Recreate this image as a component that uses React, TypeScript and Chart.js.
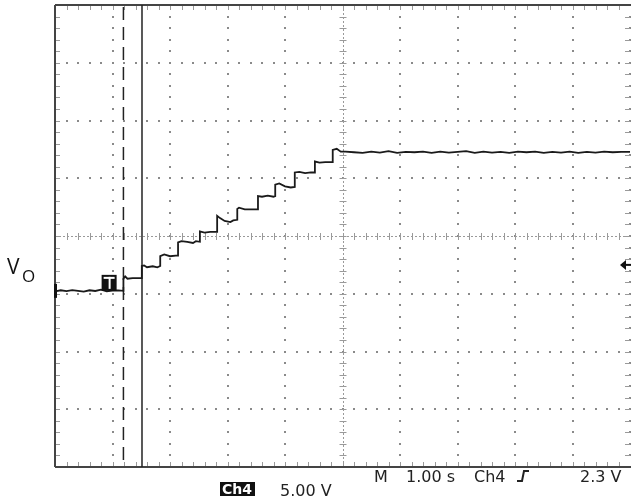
import React, { useEffect, useRef } from "react";
import { Chart, registerables } from "chart.js";

Chart.register(...registerables);

// Waveform (time in s, 1.00 s/div; voltage in V, 5.00 V/div)
const timeS: number[] = [
  0, 0.1, 0.2, 0.3, 0.4, 0.5, 0.6, 0.7, 0.8, 0.9, 1.0, 1.1, 1.19,
  1.19, 1.22, 1.26, 1.35, 1.51,
  1.51, 1.55, 1.6, 1.7, 1.78, 1.83,
  1.83, 1.9, 2.0, 2.1, 2.14,
  2.14, 2.2, 2.3, 2.4, 2.45, 2.52,
  2.52, 2.6, 2.7, 2.82,
  2.82, 2.87, 2.95, 3.05, 3.1, 3.17,
  3.17, 3.2, 3.3, 3.45, 3.53,
  3.53, 3.6, 3.7, 3.8, 3.83,
  3.83, 3.9, 4.0, 4.1, 4.17,
  4.17, 4.25, 4.35, 4.45, 4.52,
  4.52, 4.6, 4.7, 4.83,
  4.83, 4.9, 4.97, 5.05, 5.2, 5.35, 5.5, 5.65, 5.8, 5.95, 6.1, 6.25, 6.4,
  6.55, 6.7, 6.85, 7.0, 7.15, 7.3, 7.45, 7.6, 7.75, 7.9, 8.05, 8.2, 8.35,
  8.5, 8.65, 8.8, 8.95, 9.1, 9.25, 9.4, 9.55, 9.7, 9.85, 10,
];
const voltsV: number[] = [
  -4.8, -4.7, -4.78, -4.68, -4.75, -4.82, -4.7, -4.76, -4.65, -4.8, -4.72, -4.7, -4.75,
  -3.7, -3.5, -3.7, -3.65, -3.65,
  -2.6, -2.55, -2.7, -2.62, -2.72, -2.6,
  -1.75, -1.6, -1.75, -1.7, -1.7,
  -0.55, -0.45, -0.5, -0.6, -0.45, -0.5,
  0.4, 0.3, 0.35, 0.35,
  1.75, 1.55, 1.3, 1.2, 1.35, 1.4,
  2.35, 2.45, 2.3, 2.3, 2.3,
  3.45, 3.4, 3.5, 3.4, 3.45,
  4.45, 4.55, 4.3, 4.2, 4.25,
  5.5, 5.55, 5.45, 5.5, 5.5,
  6.45, 6.35, 6.4, 6.4,
  7.45, 7.55, 7.3, 7.3, 7.25, 7.2, 7.3, 7.22, 7.35, 7.2, 7.28, 7.25, 7.3,
  7.2, 7.3, 7.22, 7.28, 7.35, 7.2, 7.3, 7.22, 7.28, 7.2, 7.3, 7.25, 7.3,
  7.2, 7.28, 7.22, 7.3, 7.2, 7.28, 7.22, 7.3, 7.25, 7.28, 7.28,
];

// Cursor positions (s)
const cursorDashed: number[] = [1.19];
const cursorSolid: number[] = [1.513];

// Axis ranges (divisions: 10 horizontal x 1 s, 8 vertical x 5 V)
const xRange: number[] = [0, 10];
const yRange: number[] = [-20, 20];
const xDivs = 10;
const yDivs = 8;

// Markers
const triggerLevelV: number[] = [-2.5];
const triggerTime: number[] = [0.95];
const groundLevelV: number[] = [-4.75];

const scopePlugin = {
  id: "scopeDecor",
  beforeDatasetsDraw(chart: any) {
    const { ctx, chartArea } = chart;
    const { left, right, top, bottom } = chartArea;
    const xs = chart.scales.x;
    const ys = chart.scales.y;
    ctx.save();
    const dx = (right - left) / xDivs;
    const dy = (bottom - top) / yDivs;
    ctx.fillStyle = "#8a8a8a";
    for (let i = 1; i <= xDivs; i++) {
      if (i === xDivs / 2) continue;
      const x = left + i * dx;
      for (let j = 1; j < yDivs * 5; j++) {
        const y = top + (j * dy) / 5;
        ctx.fillRect(Math.round(x) - 1, Math.round(y) - 1, 2, 2);
      }
    }
    for (let j = 1; j < yDivs; j++) {
      if (j === yDivs / 2) continue;
      const y = top + j * dy;
      for (let i = 1; i <= xDivs * 5; i++) {
        const x = left + (i * dx) / 5;
        ctx.fillRect(Math.round(x) - 1, Math.round(y) - 1, 2, 2);
      }
    }
    const cx = xs.getPixelForValue((xRange[0] + xRange[1]) / 2);
    const cy = ys.getPixelForValue((yRange[0] + yRange[1]) / 2);
    ctx.strokeStyle = "#9a9a9a";
    ctx.lineWidth = 1;
    ctx.setLineDash([2, 2]);
    ctx.beginPath();
    ctx.moveTo(left, Math.round(cy) + 0.5);
    ctx.lineTo(right, Math.round(cy) + 0.5);
    ctx.moveTo(Math.round(cx) + 0.5, top);
    ctx.lineTo(Math.round(cx) + 0.5, bottom);
    ctx.stroke();
    ctx.setLineDash([]);
    ctx.beginPath();
    for (let i = 1; i < xDivs * 5; i++) {
      const x = Math.round(left + (i * dx) / 5) + 0.5;
      ctx.moveTo(x, cy - 3);
      ctx.lineTo(x, cy + 4);
      ctx.moveTo(x, bottom);
      ctx.lineTo(x, bottom - 5);
      ctx.moveTo(x, top);
      ctx.lineTo(x, top + 5);
    }
    for (let j = 1; j < yDivs * 5; j++) {
      const y = Math.round(top + (j * dy) / 5) + 0.5;
      ctx.moveTo(cx - 3, y);
      ctx.lineTo(cx + 4, y);
      ctx.moveTo(left, y);
      ctx.lineTo(left + 5, y);
      ctx.moveTo(right, y);
      ctx.lineTo(right - 5, y);
    }
    ctx.stroke();
    ctx.strokeStyle = "#444";
    ctx.lineWidth = 2;
    ctx.beginPath();
    ctx.moveTo(left, top);
    ctx.lineTo(right + 2, top);
    ctx.moveTo(left, top);
    ctx.lineTo(left, bottom);
    ctx.moveTo(left, bottom);
    ctx.lineTo(right + 2, bottom);
    ctx.stroke();
    ctx.strokeStyle = "#222";
    ctx.lineWidth = 1.5;
    ctx.setLineDash([13, 7]);
    cursorDashed.forEach((t) => {
      const x = xs.getPixelForValue(t);
      ctx.beginPath();
      ctx.moveTo(x, top + 2);
      ctx.lineTo(x, bottom);
      ctx.stroke();
    });
    ctx.setLineDash([]);
    cursorSolid.forEach((t) => {
      const x = xs.getPixelForValue(t);
      ctx.beginPath();
      ctx.moveTo(x, top);
      ctx.lineTo(x, bottom);
      ctx.stroke();
    });
    ctx.restore();
  },
  afterDatasetsDraw(chart: any) {
    const { ctx, chartArea } = chart;
    const { left, right, bottom } = chartArea;
    const xs = chart.scales.x;
    const ys = chart.scales.y;
    ctx.save();
    const tx = xs.getPixelForValue(triggerTime[0]);
    const gy = ys.getPixelForValue(groundLevelV[0]);
    ctx.fillStyle = "#111";
    ctx.fillRect(tx - 8, gy - 16, 15, 16);
    ctx.fillStyle = "#fff";
    ctx.fillRect(tx - 6, gy - 14, 11, 2);
    ctx.fillRect(tx - 1, gy - 14, 2, 12);
    ctx.fillStyle = "#111";
    ctx.fillRect(left - 1, gy - 7, 3, 14);
    const ly = ys.getPixelForValue(triggerLevelV[0]);
    ctx.beginPath();
    ctx.moveTo(right - 10, ly);
    ctx.lineTo(right - 4, ly - 5);
    ctx.lineTo(right - 4, ly + 5);
    ctx.closePath();
    ctx.fill();
    ctx.fillRect(right - 5, ly - 1, 6, 2);

    ctx.fillStyle = "#111";
    ctx.textBaseline = "alphabetic";
    ctx.font = "21px 'Open Sans', sans-serif";
    ctx.fillText("V", 7, 274);
    ctx.font = "17px 'Open Sans', sans-serif";
    ctx.fillText("O", 22, 282);

    ctx.fillStyle = "#222";
    ctx.font = "16px 'DejaVu Sans', sans-serif";
    ctx.fillText("M", 374, bottom + 15);
    ctx.fillText("1.00 s", 406, bottom + 15);
    ctx.fillText("Ch4", 474, bottom + 15);
    ctx.fillText("2.3 V", 580, bottom + 15);
    ctx.strokeStyle = "#222";
    ctx.lineWidth = 2;
    ctx.beginPath();
    ctx.moveTo(517, bottom + 14);
    ctx.lineTo(522, bottom + 14);
    ctx.lineTo(524, bottom + 4);
    ctx.lineTo(529, bottom + 4);
    ctx.stroke();
    ctx.fillStyle = "#111";
    ctx.fillRect(220, bottom + 15, 35, 14);
    ctx.fillStyle = "#fff";
    ctx.font = "bold 14px 'DejaVu Sans', sans-serif";
    ctx.fillText("Ch4", 222, bottom + 27);
    ctx.fillStyle = "#222";
    ctx.font = "16px 'DejaVu Sans', sans-serif";
    ctx.fillText("5.00 V", 280, bottom + 29);
    ctx.restore();
  },
};

export default function App() {
  const ref = useRef<HTMLCanvasElement | null>(null);
  useEffect(() => {
    if (!ref.current) return;
    const points = timeS.map((t, i) => ({ x: t, y: voltsV[i] }));
    const chart = new Chart(ref.current, {
      type: "line",
      data: {
        datasets: [
          {
            data: points,
            borderColor: "#1a1a1a",
            borderWidth: 1.8,
            pointRadius: 0,
            tension: 0,
            fill: false,
          },
        ],
      },
      options: {
        animation: false,
        responsive: false,
        devicePixelRatio: 1,
        layout: { padding: { left: 55, right: 1, top: 5, bottom: 37 } },
        plugins: { legend: { display: false }, tooltip: { enabled: false } },
        scales: {
          x: { type: "linear", min: xRange[0], max: xRange[1], display: false },
          y: { type: "linear", min: yRange[0], max: yRange[1], display: false },
        },
      },
      plugins: [scopePlugin],
    });
    return () => chart.destroy();
  }, []);
  return (
    <div style={{ position: "fixed", left: 0, top: 0, width: 631, height: 504, background: "#fff" }}>
      <canvas ref={ref} width={631} height={504} />
    </div>
  );
}
